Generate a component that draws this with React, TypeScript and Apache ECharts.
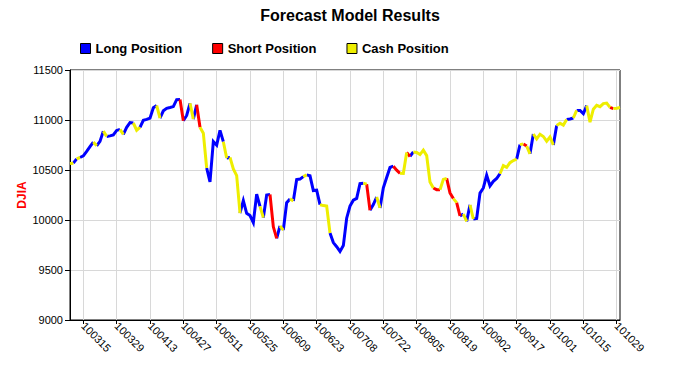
import React, { useEffect, useRef } from 'react';
import * as echarts from 'echarts';

const dates: string[] = [
  '100309','100310','100311','100312','100315','100316','100317','100318','100319','100322',
  '100323','100324','100325','100326','100329','100330','100331','100401','100405','100406',
  '100407','100408','100409','100412','100413','100414','100415','100416','100419','100420',
  '100421','100422','100423','100426','100427','100428','100429','100430','100503','100504',
  '100505','100506','100507','100510','100511','100512','100513','100514','100517','100518',
  '100519','100520','100521','100524','100525','100526','100527','100528','100601','100602',
  '100603','100604','100607','100608','100609','100610','100611','100614','100615','100616',
  '100617','100618','100621','100622','100623','100624','100625','100628','100629','100630',
  '100701','100702','100706','100707','100708','100709','100712','100713','100714','100715',
  '100716','100719','100720','100721','100722','100723','100726','100727','100728','100729',
  '100730','100802','100803','100804','100805','100806','100809','100810','100811','100812',
  '100813','100816','100817','100818','100819','100820','100823','100824','100825','100826',
  '100827','100830','100831','100901','100902','100903','100907','100908','100909','100910',
  '100913','100914','100915','100916','100917','100920','100921','100922','100923','100924',
  '100927','100928','100929','100930','101001','101004','101005','101006','101007','101008',
  '101011','101012','101013','101014','101015','101018','101019','101020','101021','101022',
  '101025','101026','101027','101028','101029','101101'
];

const djia: number[] = [
  10564, 10568, 10612, 10625, 10642, 10686, 10734, 10779, 10742, 10786,
  10889, 10836, 10841, 10850, 10896, 10907, 10857, 10927, 10974, 10970,
  10898, 10927, 10997, 11006, 11019, 11123, 11145, 11019, 11092, 11117,
  11125, 11134, 11204, 11205, 10992, 11045, 11167, 11009, 11152, 10927,
  10868, 10520, 10380, 10785, 10748, 10897, 10783, 10620, 10626, 10511,
  10444, 10068, 10193, 10067, 10044, 9974, 10259, 10137, 10024, 10250,
  10255, 9932, 9816, 9940, 9899, 10173, 10211, 10191, 10405, 10409,
  10434, 10451, 10442, 10294, 10298, 10153, 10144, 10139, 9870, 9774,
  9733, 9686, 9744, 10018, 10139, 10198, 10216, 10363, 10367, 10359,
  10098, 10154, 10230, 10121, 10322, 10425, 10525, 10538, 10498, 10467,
  10466, 10674, 10636, 10680, 10675, 10654, 10699, 10644, 10379, 10320,
  10303, 10302, 10406, 10416, 10271, 10214, 10174, 10040, 10060, 9986,
  10151, 10010, 10015, 10269, 10320, 10448, 10341, 10387, 10415, 10463,
  10544, 10526, 10573, 10595, 10608, 10754, 10761, 10739, 10662, 10860,
  10812, 10858, 10835, 10788, 10830, 10751, 10945, 10968, 10949, 11006,
  11010, 11020, 11096, 11095, 11063, 11144, 10979, 11108, 11147, 11133,
  11164, 11169, 11126, 11114, 11118, 11125
];

// position held over each segment (from day i to day i+1): L = long, S = short, C = cash
const segmentPosition: string[] = [
  'C','L','C','L','L','L','L','C','L','L',
  'C','L','L','L','L','C','L','L','L','C',
  'C','L','L','L','L','L','C','L','L','L',
  'L','L','L','S','L','L','C','L','S','C',
  'C','L','L','L','L','L','C','L','C','C',
  'C','L','L','L','L','L','L','C','L','L',
  'S','S','L','C','L','L','C','L','L','L',
  'C','L','L','L','L','C','C','C','L','L',
  'L','L','L','L','L','L','L','L','C','S',
  'L','L','C','L','L','L','L','S','S','C',
  'C','S','L','C','C','C','C','C','C','S',
  'S','C','C','S','S','C','S','L','C','L',
  'C','L','L','L','L','L','L','L','L','C',
  'C','C','C','C','L','C','S','C','L','C',
  'C','C','C','C','C','L','C','C','C','L',
  'L','C','L','L','L','C','C','C','C','C',
  'C','C','S','C','C'
];

const positionCodes: string[] = ['L', 'S', 'C'];
const positionNames: string[] = ['Long Position', 'Short Position', 'Cash Position'];
const positionColors: string[] = ['#0000ff', '#ff0000', '#eeee00'];

const yMin = 9000;
const yMax = 11500;
const yStep = 500;

const FONT = '"Liberation Sans", Arial, Helvetica, sans-serif';

const labelEvery = (idx: number) => idx % 10 === 4;

function buildSeries(): any[] {
  const n = djia.length;
  const out: any[] = [];
  positionCodes.forEach((code, ci) => {
    const parts: (number | null)[][] = [new Array(n).fill(null), new Array(n).fill(null)];
    let run = -1;
    let prev = false;
    for (let i = 0; i < segmentPosition.length; i++) {
      const inside = segmentPosition[i] === code;
      if (inside && !prev) run++;
      if (inside) {
        const arr = parts[run % 2];
        arr[i] = djia[i];
        arr[i + 1] = djia[i + 1];
      }
      prev = inside;
    }
    parts.forEach((d) => {
      out.push({
        type: 'line',
        name: positionNames[ci],
        data: d,
        symbol: 'none',
        showSymbol: false,
        connectNulls: false,
        lineStyle: { color: positionColors[ci], width: 3, cap: 'butt', join: 'miter' },
        itemStyle: { color: positionColors[ci] },
        emphasis: { disabled: true },
      });
    });
  });
  return out;
}

export default function App() {
  const ref = useRef<HTMLDivElement>(null);
  useEffect(() => {
    document.body.style.margin = '0';
    if (!ref.current) return;
    const chart = echarts.init(ref.current, undefined, { renderer: 'svg' });
    chart.setOption({
      animation: false,
      backgroundColor: '#ffffff',
      title: {
        text: 'Forecast Model Results',
        left: 'center',
        top: 2,
        textStyle: { fontSize: 16, fontWeight: 'bold', color: '#000', fontFamily: FONT },
      },
      legend: {
        left: 75,
        top: 37,
        itemWidth: 10,
        itemHeight: 10,
        itemGap: 30,
        data: positionNames.map((name) => ({ name, icon: 'rect' })),
        itemStyle: { borderColor: '#000', borderWidth: 1 },
        textStyle: { fontSize: 13, fontWeight: 'bold', color: '#000', fontFamily: FONT },
        selectedMode: false,
      },
      grid: {
        left: 70,
        top: 70,
        width: 550,
        height: 250,
        show: true,
        borderColor: '#000',
        borderWidth: 1,
        backgroundColor: 'transparent',
      },
      xAxis: {
        type: 'category',
        data: dates,
        boundaryGap: false,
        axisLine: { lineStyle: { color: '#000', width: 1 } },
        axisTick: { show: true, interval: labelEvery, length: 4, lineStyle: { color: '#000' } },
        axisLabel: {
          interval: labelEvery,
          rotate: -45,
          margin: 4,
          fontSize: 11,
          color: '#000',
          fontFamily: FONT,
        },
        splitLine: { show: true, interval: labelEvery, lineStyle: { color: '#d8d8d8', width: 1 } },
      },
      yAxis: {
        type: 'value',
        min: yMin,
        max: yMax,
        interval: yStep,
        name: 'DJIA',
        nameLocation: 'middle',
        nameGap: 42,
        nameMoveOverlap: false,
        nameTextStyle: { color: '#ff0000', fontWeight: 'bold', fontSize: 12, fontFamily: FONT },
        axisLine: { show: true, lineStyle: { color: '#000', width: 1 } },
        axisTick: { show: true, length: 5, lineStyle: { color: '#000' } },
        axisLabel: {
          fontSize: 11,
          color: '#000',
          margin: 7,
          fontFamily: FONT,
          formatter: (v: number) => String(v),
        },
        splitLine: { show: true, lineStyle: { color: '#d8d8d8', width: 1 } },
      },
      series: buildSeries(),
    });
    return () => chart.dispose();
  }, []);
  return <div ref={ref} style={{ width: 700, height: 375 }} />;
}
